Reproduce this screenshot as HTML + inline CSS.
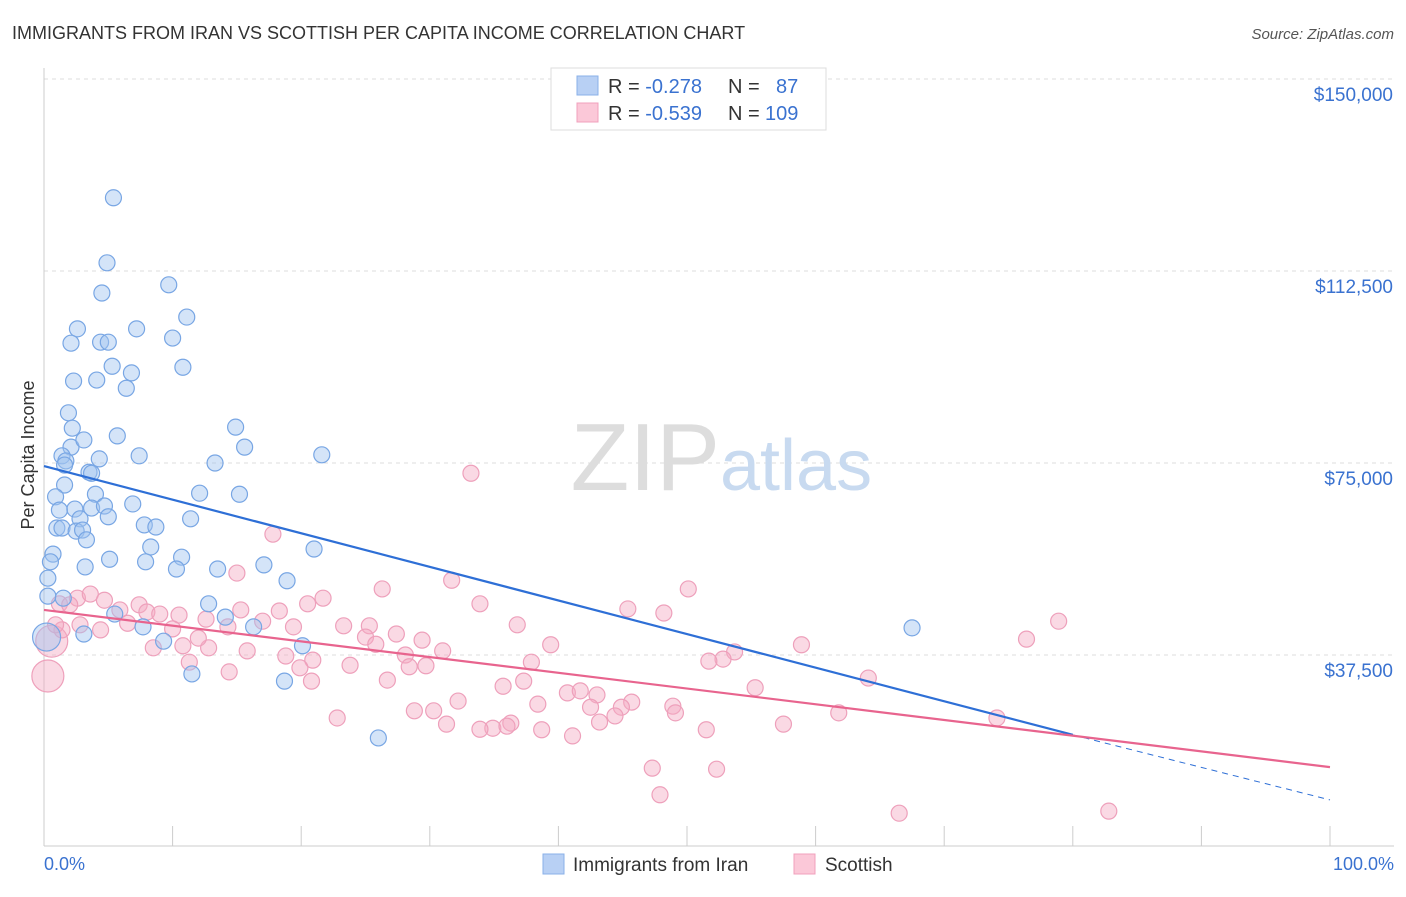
<!DOCTYPE html>
<html><head><meta charset="utf-8"><style>
body{margin:0;background:#fff;font-family:"Liberation Sans",sans-serif;}
svg text{font-family:"Liberation Sans",sans-serif;}
</style></head><body>
<svg id="chart" width="1406" height="892" viewBox="0 0 1406 892">
<text x="12" y="39" font-size="18" fill="#333">IMMIGRANTS FROM IRAN VS SCOTTISH PER CAPITA INCOME CORRELATION CHART</text>
<text x="1394" y="39" font-size="15" fill="#555" text-anchor="end" font-style="italic">Source: ZipAtlas.com</text>
<text x="34" y="455" font-size="18" fill="#333" text-anchor="middle" transform="rotate(-90 34 455)">Per Capita Income</text>
<g id="grid"></g>
<text x="720" y="490" font-size="96" fill="#ddd" text-anchor="end" font-family="Liberation Serif">ZIP</text>
<text x="720" y="490" font-size="72" fill="#c8daf0">atlas</text>
<g id="pts"></g>
<g id="trend"></g>
<g>
<rect x="551" y="68" width="275" height="62" fill="#fff" stroke="#ddd"/>
<rect x="577" y="76" width="21" height="19" fill="#b8d0f4" stroke="#8ab0e8"/>
<rect x="577" y="103" width="21" height="19" fill="#fbc8d8" stroke="#f0a0bc"/>
<text x="608" y="93" font-size="20" fill="#333">R = <tspan fill="#3a72d0">-0.278</tspan><tspan x="728">N =</tspan><tspan x="776" fill="#3a72d0">87</tspan></text>
<text x="608" y="120" font-size="20" fill="#333">R = <tspan fill="#3a72d0">-0.539</tspan><tspan x="728">N =</tspan><tspan x="765" fill="#3a72d0">109</tspan></text>
</g>
<g>
<rect x="543" y="854" width="21" height="20" fill="#b8d0f4" stroke="#8ab0e8"/>
<text x="573" y="871" font-size="19" fill="#333">Immigrants from Iran</text>
<rect x="794" y="854" width="21" height="20" fill="#fbc8d8" stroke="#f0a0bc"/>
<text x="825" y="871" font-size="19" fill="#333">Scottish</text>
</g>
<text x="44" y="870" font-size="18" fill="#3a72d0">0.0%</text>
<text x="1394" y="870" font-size="18" fill="#3a72d0" text-anchor="end">100.0%</text>
</svg>
<script>
const yTicks=[37500,75000,112500,150000];
const yTickLabels=["$37,500","$75,000","$112,500","$150,000"];
const xTicks=[0,10,20,30,40,50,60,70,80,90,100];
const iranX=[5.4,4.9,4.5,9.7,11.1,2.6,7.2,2.1,4.4,5.0,10.0,5.3,2.3,4.1,6.8,6.4,10.8,1.9,2.2,2.1,3.1,5.7,14.9,15.6,21.6,1.4,1.7,4.3,7.4,13.3,1.6,3.5,3.7,1.6,4.0,12.1,15.2,0.9,1.2,2.4,3.7,4.7,6.9,2.8,5.0,11.4,1.0,1.4,2.5,3.0,7.8,8.7,3.3,8.3,21.0,0.7,5.1,10.7,7.9,0.5,3.2,10.3,13.5,17.1,0.3,18.9,0.3,1.5,12.8,5.5,14.1,16.3,7.7,67.5,3.1,9.3,20.1,11.5,18.7,26.0,0.2];
const iranY=[126.8,114.1,108.2,109.8,103.5,101.2,101.2,98.4,98.6,98.6,99.4,93.9,91.0,91.2,92.6,89.6,93.7,84.8,81.8,78.1,79.5,80.3,82.0,78.1,76.6,76.4,75.4,75.8,76.4,75.0,74.6,73.2,73.0,70.7,68.9,69.1,68.9,68.4,65.8,66.0,66.2,66.6,67.0,64.1,64.5,64.1,62.3,62.3,61.7,61.9,62.9,62.5,60.0,58.6,58.2,57.2,56.2,56.6,55.7,55.7,54.7,54.3,54.3,55.1,52.5,52.0,49.0,48.6,47.5,45.5,44.9,43.0,43.0,42.8,41.6,40.2,39.3,33.8,32.4,21.3,41.0];
const scotX=[33.2,17.8,15.0,31.7,26.3,50.1,21.7,33.9,20.5,2.6,3.6,4.7,1.2,2.0,5.9,7.4,8.0,9.0,10.5,15.3,18.3,12.6,17.0,45.4,48.2,78.9,36.8,25.3,27.4,29.4,76.4,2.8,4.4,6.5,10.0,14.3,19.4,23.3,25.0,25.8,39.4,58.9,53.7,28.1,31.0,10.8,12.8,12.0,8.5,18.8,20.9,23.8,29.7,15.8,19.9,52.8,51.7,37.9,11.3,14.4,20.8,28.4,26.7,37.3,35.7,40.7,41.7,43.0,45.7,32.2,38.4,42.5,44.9,48.9,55.3,64.1,61.8,49.1,28.8,30.3,22.8,74.1,44.4,43.2,31.3,34.9,36.3,36.0,33.9,38.7,41.1,51.5,57.5,47.3,52.3,47.9,66.5,82.8,0.3,0.6,1.4,0.9];
const scotY=[73.0,61.1,53.5,52.1,50.4,50.4,48.6,47.5,47.5,48.6,49.4,48.2,47.5,47.3,46.3,47.3,45.9,45.5,45.3,46.3,46.1,44.5,44.1,46.5,45.7,44.1,43.4,43.2,41.6,40.4,40.6,43.4,42.4,43.7,42.6,43.0,43.0,43.2,41.0,39.6,39.5,39.5,38.1,37.5,38.3,39.3,38.9,40.8,38.9,37.3,36.5,35.5,35.4,38.3,35.0,36.7,36.3,36.1,36.1,34.2,32.4,35.2,32.6,32.4,31.4,30.1,30.5,29.7,28.3,28.5,27.9,27.3,27.3,27.5,31.1,33.0,26.2,26.2,26.6,26.6,25.2,25.2,25.6,24.4,24.0,23.2,24.2,23.6,23.0,22.9,21.7,22.9,24.0,15.4,15.2,10.2,6.6,7.0,33.4,40.2,42.4,43.4];
const iranTrend=[74.4,21.9,9.2]; // at 0, 80, 100 %
const iranTrendX=[0,80,100];
const scotTrend=[46.3,15.6];
const scotTrendX=[0,100];
const big={iran:[80],scot:[98,99]};

const NS="http://www.w3.org/2000/svg";
const X=p=>44+p*12.86;
const Y=v=>847-v*1000/37500*192;
function mk(t,a,parent){const e=document.createElementNS(NS,t);for(const k in a)e.setAttribute(k,a[k]);parent.appendChild(e);return e;}
const grid=document.getElementById('grid');
yTicks.forEach((v,i)=>{
  const l=mk('line',{x1:44,x2:1394,y1:Y(v/1000),y2:Y(v/1000),stroke:'#ddd','stroke-dasharray':'4 4'},grid);
  
  
  const t=mk('text',{x:1393,y:Y(v/1000)+22,'font-size':19,fill:'#3a72d0','text-anchor':'end'},grid);
  t.textContent=yTickLabels[i];
  
  
});
mk('line',{x1:44,x2:1394,y1:Y(150),y2:Y(150),stroke:'#ddd','stroke-dasharray':'4 4'},grid);
const ax=mk('line',{x1:44,x2:44,y1:68,y2:846,stroke:'#ccc'},grid);


const bx=mk('line',{x1:44,x2:1394,y1:846,y2:846,stroke:'#ccc'},grid);


xTicks.forEach(p=>{
  const t=mk('line',{x1:X(p),x2:X(p),y1:826,y2:846,stroke:'#ccc'},grid);
  
  
});
const pts=document.getElementById('pts');
scotX.forEach((x,i)=>{
  const r=big.scot.includes(i)?16:8;
  const c=mk('circle',{cx:X(x),cy:Y(scotY[i]),r:r,fill:'rgba(245,170,195,0.45)',stroke:'#eea0bb','stroke-width':1.2},pts);
  
  
});
iranX.forEach((x,i)=>{
  const r=big.iran.includes(i)?14:8;
  const c=mk('circle',{cx:X(x),cy:Y(iranY[i]),r:r,fill:'rgba(160,195,240,0.45)',stroke:'#78a6e4','stroke-width':1.2},pts);
  
  
});
const tr=document.getElementById('trend');
const b1=mk('line',{x1:X(iranTrendX[0]),y1:Y(iranTrend[0]),x2:X(iranTrendX[1]),y2:Y(iranTrend[1]),stroke:'#2e6fd6','stroke-width':2.2},tr);


const b2=mk('line',{x1:X(iranTrendX[1]),y1:Y(iranTrend[1]),x2:X(iranTrendX[2]),y2:Y(iranTrend[2]),stroke:'#2e6fd6','stroke-width':1,'stroke-dasharray':'6 5'},tr);


const p1=mk('line',{x1:X(scotTrendX[0]),y1:Y(scotTrend[0]),x2:X(scotTrendX[1]),y2:Y(scotTrend[1]),stroke:'#e8648e','stroke-width':2.2},tr);


</script>
</body></html>
